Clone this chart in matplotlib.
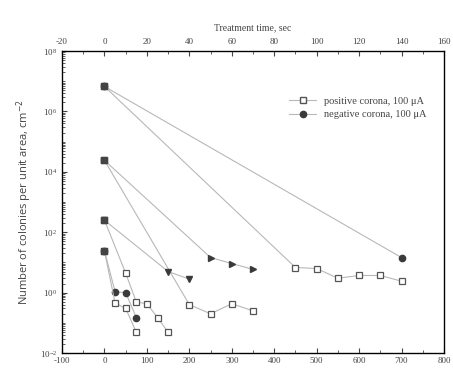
import numpy as np
import matplotlib.pyplot as plt
from matplotlib.ticker import FixedLocator, NullFormatter, LogFormatterSciNotation

plt.rcParams['axes.unicode_minus'] = False

# control + 450-700 s, positive corona (squares) / negative (circles)
a_pos_x = [0, 450, 500, 550, 600, 650, 700]
a_pos_y = [6.7e6, 6.8, 6.3, 3.0, 3.7, 3.7, 2.4]
a_neg_x = [0, 700]
a_neg_y = [6.7e6, 14.5]

b_pos_x = [0, 200, 250, 300, 350]
b_pos_y = [2.4e4, 0.40, 0.20, 0.43, 0.25]
b_tri_x = [0, 250, 300, 350]
b_tri_y = [2.4e4, 14.5, 9.2, 5.9]

c_pos_x = [0, 50, 75, 100, 125, 150]
c_pos_y = [250, 4.4, 0.49, 0.43, 0.15, 0.049]
c_tri_x = [0, 150, 200]
c_tri_y = [250, 5.0, 2.8]

d_pos_x = [0, 25, 50, 75]
d_pos_y = [24, 0.45, 0.30, 0.049]
d_neg_x = [0, 25, 50, 75]
d_neg_y = [24, 1.07, 1.0, 0.15]

y_major = [1e-2, 1e0, 1e2, 1e4, 1e6, 1e8]
x_major = list(range(-100, 801, 100))
top_major = list(range(-20, 161, 20))

line_c = '#b8b8b8'
mk_c = '#3a3a3a'
serif = 'Liberation Serif'

fig = plt.figure(figsize=(4.53, 3.78), dpi=100)
ax = fig.add_axes([0.137, 0.066, 0.843, 0.799])

def open_sq(x, y):
    ax.plot(x, y, '-', color=line_c, lw=0.8, marker='s', ms=4.5,
            mfc='white', mec='#555555', mew=0.9, zorder=3)

def filled(x, y, m, ms):
    ax.plot(x, y, '-', color=line_c, lw=0.8, marker=m, ms=ms,
            mfc=mk_c, mec=mk_c, zorder=3)

filled(a_neg_x, a_neg_y, 'o', 4.5)
open_sq(a_pos_x, a_pos_y)
filled(b_tri_x, b_tri_y, '>', 5)
open_sq(b_pos_x, b_pos_y)
filled(c_tri_x, c_tri_y, 'v', 5)
open_sq(c_pos_x, c_pos_y)
filled(d_neg_x, d_neg_y, 'o', 4.5)
open_sq(d_pos_x, d_pos_y)
# control points at t=0 drawn as dark squares
ax.plot([0, 0, 0, 0], [a_pos_y[0], b_pos_y[0], c_pos_y[0], d_pos_y[0]],
        's', ms=5, color='#444444', ls='none', zorder=4)

ax.set_yscale('log')
ax.set_xlim(-100, 800)
ax.set_ylim(1e-2, 1e8)
ax.xaxis.set_major_locator(FixedLocator(x_major))
ax.xaxis.set_minor_locator(FixedLocator(np.arange(-50, 800, 100)))
ax.yaxis.set_major_locator(FixedLocator(y_major))
ax.yaxis.set_major_formatter(LogFormatterSciNotation())
minor_y = [m * 10.0 ** e for e in range(-2, 8) for m in range(2, 10)] + \
          [10.0 ** e for e in (-1, 1, 3, 5, 7)]
ax.yaxis.set_minor_locator(FixedLocator(minor_y))
ax.yaxis.set_minor_formatter(NullFormatter())
ax.tick_params(which='both', direction='in', labelsize=6.5, colors='#444444',
               top=False, right=False)
ax.tick_params(which='major', length=3.5, width=0.8)
ax.tick_params(which='minor', length=2, width=0.6)
ax.tick_params(axis='x', pad=3)
for lab in ax.get_xticklabels() + ax.get_yticklabels():
    lab.set_fontfamily(serif)
for s in ax.spines.values():
    s.set_color('#555555')
    s.set_linewidth(1.0)

ax.set_ylabel('Number of colonies per unit area, cm$^{-2}$', fontsize=8,
              family='Open Sans', color='#444444', labelpad=4)

top = ax.twiny()
top.set_xlim(-20, 160)
top.xaxis.set_major_locator(FixedLocator(top_major))
top.xaxis.set_minor_locator(FixedLocator(np.arange(-10, 160, 20)))
top.tick_params(which='both', direction='in', labelsize=6.5, colors='#444444')
top.tick_params(which='major', length=3.5, width=0.8)
top.tick_params(which='minor', length=2, width=0.6)
for lab in top.get_xticklabels():
    lab.set_fontfamily(serif)
top.set_xlabel('Treatment time, sec', fontsize=7, family=serif,
               color='#444444', labelpad=6)

# legend handles
h1, = ax.plot([], [], '-', color=line_c, lw=0.8, marker='s', ms=4.5,
              mfc='white', mec='#555555', label='positive corona, 100 \u03bcA')
h2, = ax.plot([], [], '-', color=line_c, lw=0.8, marker='o', ms=4.5,
              mfc=mk_c, mec=mk_c, label='negative corona, 100 \u03bcA')
ax.legend(handles=[h1, h2], loc='upper right', bbox_to_anchor=(0.98, 0.88),
          frameon=False, prop={'family': serif, 'size': 7.5},
          handlelength=2.6, labelspacing=0.4, labelcolor='#444444')

fig.savefig('out.png', dpi=100)
